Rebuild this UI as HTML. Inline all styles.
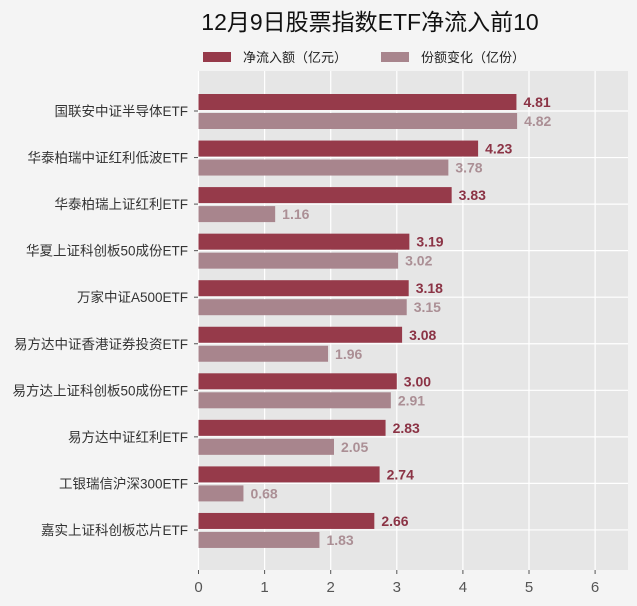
<!DOCTYPE html>
<html><head><meta charset="utf-8">
<style>
body{margin:0;background:#f4f4f4;}
svg{display:block;font-family:"Liberation Sans","Noto Sans CJK SC",sans-serif;}
</style></head>
<body>
<svg id="c" width="637" height="606" viewBox="0 0 637 606">
<rect width="637" height="606" fill="#f4f4f4"/>
<text x="370" y="30" text-anchor="middle" font-size="23" fill="#111">12月9日股票指数ETF净流入前10</text>
<g>
<rect x="203" y="52" width="28" height="10" fill="#963a4a"/>
<text x="243" y="62" font-size="13" fill="#222">净流入额（亿元）</text>
<rect x="381" y="52" width="28" height="10" fill="#a8858d"/>
<text x="421" y="62" font-size="13" fill="#222">份额变化（亿份）</text>
</g>
<rect x="198" y="71" width="430" height="499" fill="#e6e6e6"/>
<g id="grid"></g><g id="bars"></g><g id="axes"></g>
</svg>
<script>
const categories=["国联安中证半导体ETF","华泰柏瑞中证红利低波ETF","华泰柏瑞上证红利ETF","华夏上证科创板50成份ETF","万家中证A500ETF","易方达中证香港证券投资ETF","易方达上证科创板50成份ETF","易方达中证红利ETF","工银瑞信沪深300ETF","嘉实上证科创板芯片ETF"];
const netInflow=[4.81,4.23,3.83,3.19,3.18,3.08,3.00,2.83,2.74,2.66];
const shareChange=[4.82,3.78,1.16,3.02,3.15,1.96,2.91,2.05,0.68,1.83];
const xTicks=[0,1,2,3,4,5,6];
const NS="http://www.w3.org/2000/svg";
const x0=198.5,ppu=66.1,y0=111,band=46.55,plotTop=71,plotBottom=570;
const X=v=>x0+v*ppu, Y=i=>y0+i*band;
function mk(tag,attrs,parent,text){const e=document.createElementNS(NS,tag);for(const k in attrs)e.setAttribute(k,attrs[k]);if(text!==undefined)e.textContent=text;parent.appendChild(e);return e;}
const grid=document.getElementById('grid'),bars=document.getElementById('bars'),axes=document.getElementById('axes');
xTicks.forEach(t=>{
 const l=mk('line',{x1:X(t),x2:X(t),y1:plotTop,y2:plotBottom,stroke:'#fff','stroke-width':1.2},grid);
 
 
 const tk=mk('line',{x1:X(t),x2:X(t),y1:plotBottom,y2:plotBottom+4,stroke:'#555'},axes);
 
 
 const tx=mk('text',{x:X(t),y:plotBottom+22,'text-anchor':'middle','font-size':15,fill:'#555'},axes,String(t));
 
 
});
categories.forEach((c,i)=>{
 const y=Y(i);
 const g=mk('line',{x1:198,x2:628,y1:y,y2:y,stroke:'#fff','stroke-width':1.2},grid);
 
 
 const tk=mk('line',{x1:194,x2:198,y1:y,y2:y,stroke:'#555'},axes);
 
 
 const lb=mk('text',{x:188,y:y+5,'text-anchor':'end','font-size':13.5,fill:'#333'},axes,c);
 
 
 const r1=mk('rect',{x:x0,y:y-17,width:X(netInflow[i])-x0,height:16,fill:'#963a4a'},bars);
 
 
 const t1=mk('text',{x:X(netInflow[i])+7,y:y-4,'font-size':14,'font-weight':'bold',fill:'#8b3345'},bars,netInflow[i].toFixed(2));
 
 
 const r2=mk('rect',{x:x0,y:y+2,width:X(shareChange[i])-x0,height:16,fill:'#a8858d'},bars);
 
 
 const t2=mk('text',{x:X(shareChange[i])+7,y:y+15,'font-size':14,'font-weight':'bold',fill:'#ab8f95'},bars,shareChange[i].toFixed(2));
 
 
});
</script>
</body></html>
